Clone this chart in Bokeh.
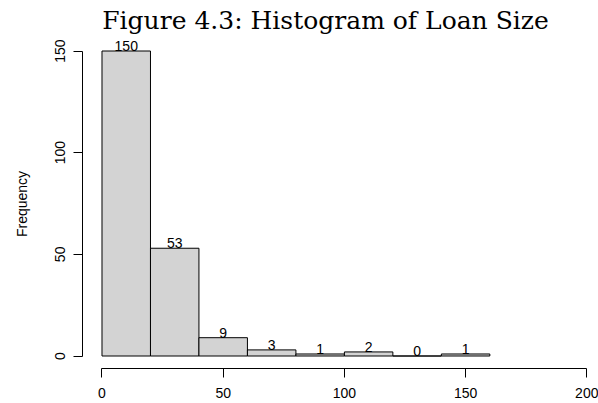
from bokeh.plotting import figure
from bokeh.models import Range1d, FixedTicker, Label, ColumnDataSource
from bokeh.embed import file_html
from bokeh.resources import INLINE
from bokeh.core.properties import value

# Data
breaks = [0, 20, 40, 60, 80, 100, 120, 140, 160]
counts = [150, 53, 9, 3, 1, 2, 0, 1]
x_ticks = [0, 50, 100, 150, 200]
y_ticks = [0, 50, 100, 150]
title_text = "Figure 4.3: Histogram of Loan Size"
y_label = "Frequency"

lefts = breaks[:-1]
rights = breaks[1:]
mids = [(a + b) / 2 for a, b in zip(lefts, rights)]
src = ColumnDataSource(dict(left=lefts, right=rights, top=counts,
                            bottom=[0] * len(counts), mid=mids,
                            lab=[str(c) for c in counts]))

p = figure(width=598, height=403, output_backend="svg", toolbar_location=None,
           x_range=Range1d(-41.87, 204.83), y_range=Range1d(-23.36, 174.84),
           min_border_left=0, min_border_right=0, min_border_top=0,
           min_border_bottom=0)
p.outline_line_color = None
p.xgrid.visible = False
p.ygrid.visible = False
p.background_fill_color = "white"
p.border_fill_color = "white"

p.quad(left="left", right="right", top="top", bottom="bottom", source=src,
       fill_color="#d3d3d3", line_color="black", line_width=1)
p.text(x="mid", y="top", text="lab", source=src, text_align="center",
       text_baseline="bottom", y_offset=0,
       text_font=value("Liberation Sans"), text_font_size="14px",
       text_color="black")

ax = p.xaxis[0]
ax.ticker = FixedTicker(ticks=x_ticks)
ax.bounds = (0, 200)
ax.fixed_location = -6
ay = p.yaxis[0]
ay.ticker = FixedTicker(ticks=y_ticks)
ay.bounds = (0, 150)
ay.fixed_location = -8
ay.axis_label = y_label
ay.major_label_orientation = "vertical"

for a in (ax, ay):
    a.axis_line_color = "black"
    a.major_tick_line_color = "black"
    a.minor_tick_line_color = None
    a.major_tick_out = 9
    a.major_tick_in = 0
    a.major_label_text_font = "Liberation Sans"
    a.major_label_text_font_size = "14px"
    a.major_label_text_color = "black"
    a.axis_label_text_font = "Liberation Sans"
    a.axis_label_text_font_size = "14px"
    a.axis_label_text_font_style = "normal"
    a.axis_label_text_color = "black"
ax.major_label_standoff = 11
ay.major_label_standoff = 9
ay.axis_label_standoff = 22

p.add_layout(Label(x=325, y=383, x_units="screen", y_units="screen",
                   text=title_text, text_align="center",
                   text_baseline="alphabetic",
                   text_font="DejaVu Serif",
                   text_font_size="25px", text_color="black"))

open("out.html", "w").write(file_html(p, INLINE))
